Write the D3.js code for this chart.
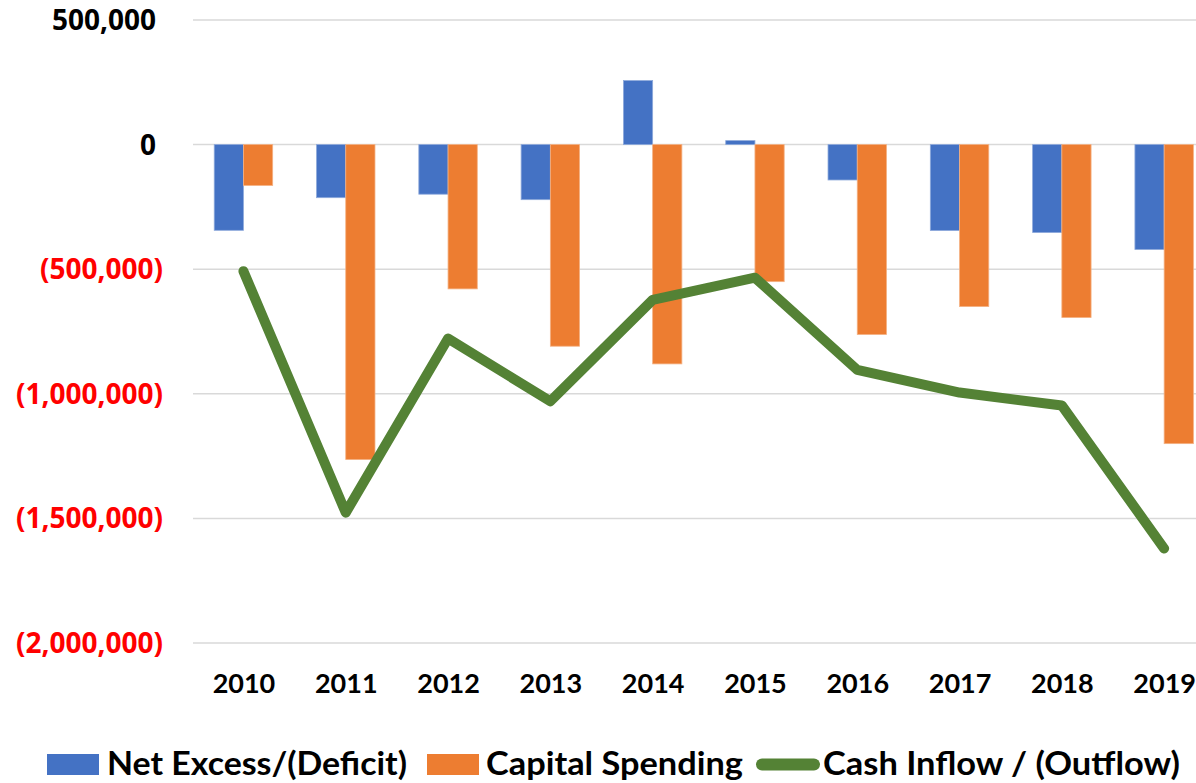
<!DOCTYPE html>
<html>
<head>
<meta charset="utf-8">
<script src="https://cdn.jsdelivr.net/npm/d3@7"></script>
<style>
  html, body { margin: 0; padding: 0; background: #fff; }
  svg { display: block; }
</style>
</head>
<body>
<svg id="chart" width="1196" height="783"></svg>
<script>
const years = ["2010","2011","2012","2013","2014","2015","2016","2017","2018","2019"];
const netExcess = [-344000, -213000, -199000, -221000, 257000, 16000, -142000, -345000, -353000, -421000];
const capitalSpending = [-164000, -1264000, -579000, -809000, -880000, -550000, -762000, -650000, -694000, -1200000];
const cashFlow = [-508000, -1477000, -778000, -1030000, -623000, -534000, -904000, -995000, -1047000, -1621000];
const yTicks = [500000, 0, -500000, -1000000, -1500000, -2000000];
const seriesNames = ["Net Excess/(Deficit)", "Capital Spending", "Cash Inflow / (Outflow)"];

const svg = d3.select("#chart");
const W = 1196, H = 783;

const x = d3.scaleBand().domain(years).range([192.3, 1215.3]).padding(0);
const y = d3.scaleLinear().domain([-2000000, 500000]).range([643, 20]);

const barW = x.bandwidth() / 3.5;
const sub = d3.scaleBand().domain([0, 1]).range([-barW, barW]);

// gridlines
svg.append("g").selectAll("line").data(yTicks).join("line")
  .attr("x1", 193).attr("x2", W)
  .attr("y1", d => y(d)).attr("y2", d => y(d))
  .attr("stroke", "#d9d9d9").attr("stroke-width", 1.5);

// y labels
const fmt = d3.format(",");
svg.append("g").selectAll("text").data(yTicks).join("text")
  .attr("x", d => d < 0 ? 163 : 156)
  .attr("y", d => y(d))
  .attr("dy", "0.36em")
  .attr("text-anchor", "end")
  .attr("font-family", "'Open Sans', sans-serif")
  .attr("font-weight", 700)
  .attr("font-size", 28)
  .attr("fill", d => d < 0 ? "#ff0000" : "#000000")
  .text(d => d < 0 ? "(" + fmt(-d) + ")" : fmt(d));

// x labels
svg.append("g").selectAll("text").data(years).join("text")
  .attr("x", d => x(d) + x.bandwidth() / 2 + 0.5)
  .attr("y", 693)
  .attr("text-anchor", "middle")
  .attr("font-family", "Lato, sans-serif")
  .attr("font-weight", 700)
  .attr("font-size", 27)
  .attr("fill", "#000")
  .text(d => d);

// bars
const bars = [
  { vals: netExcess, fill: "#4472c4", stroke: "#8eaadb" },
  { vals: capitalSpending, fill: "#ed7d31", stroke: "#f4b183" }
];
bars.forEach((s, si) => {
  svg.append("g").selectAll("rect").data(years).join("rect")
    .attr("x", d => x(d) + x.bandwidth() / 2 + sub(si))
    .attr("width", sub.bandwidth())
    .attr("y", (d, i) => Math.min(y(s.vals[i]), y(0)))
    .attr("height", (d, i) => Math.abs(y(s.vals[i]) - y(0)))
    .attr("fill", s.fill)
    .attr("stroke", s.stroke)
    .attr("stroke-width", 0.8);
});

// line
const line = d3.line()
  .x((d, i) => x(years[i]) + x.bandwidth() / 2)
  .y(d => y(d));
svg.append("path")
  .datum(cashFlow)
  .attr("d", line)
  .attr("fill", "none")
  .attr("stroke", "#548235")
  .attr("stroke-width", 10)
  .attr("stroke-linejoin", "round")
  .attr("stroke-linecap", "round");

// legend
const lg = svg.append("g").attr("font-family", "Lato, sans-serif").attr("font-weight", 700).attr("font-size", 32).attr("fill", "#000");
lg.append("rect").attr("x", 47).attr("y", 754).attr("width", 52).attr("height", 21).attr("fill", "#4472c4");
lg.append("text").attr("x", 107).attr("y", 775).attr("textLength", 300).attr("lengthAdjust", "spacingAndGlyphs").text(seriesNames[0]);
lg.append("rect").attr("x", 427).attr("y", 754).attr("width", 52).attr("height", 21).attr("fill", "#ed7d31");
lg.append("text").attr("x", 486).attr("y", 775).attr("textLength", 257).attr("lengthAdjust", "spacingAndGlyphs").text(seriesNames[1]);
lg.append("line").attr("x1", 762).attr("x2", 814).attr("y1", 764.5).attr("y2", 764.5)
  .attr("stroke", "#548235").attr("stroke-width", 12).attr("stroke-linecap", "round");
lg.append("text").attr("x", 823).attr("y", 775).attr("textLength", 357).attr("lengthAdjust", "spacingAndGlyphs").text(seriesNames[2]);
</script>
</body>
</html>
